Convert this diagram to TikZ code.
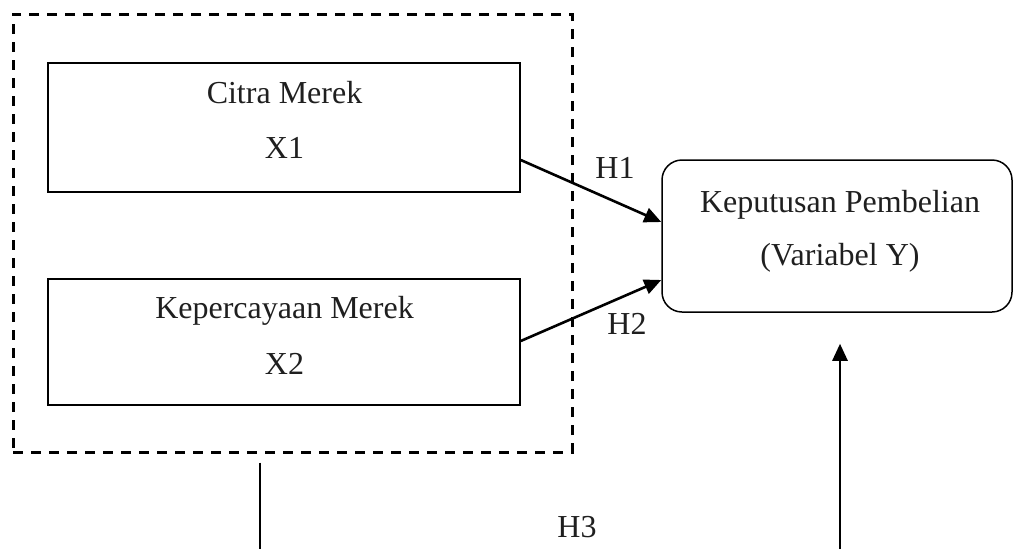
\documentclass[tikz,border=0pt]{standalone}
\usepackage{fontspec}
\setmainfont{Liberation Serif}
\usetikzlibrary{arrows.meta}
\begin{document}
\begin{tikzpicture}[x=1pt,y=-1pt,
  box/.style={draw, line width=1.5pt, minimum width=#1, inner sep=0pt},
  grpbox/.style={draw, line width=3pt, dash pattern=on 10pt off 8pt, inner sep=0pt},
  ybox/.style={draw, line width=1.5pt, rounded corners=20pt, inner sep=0pt},
  txt/.style={anchor=base, inner sep=0pt, font=\fontsize{32}{38}\selectfont, text=black!88},
  conn/.style={line width=2.6pt, -{Triangle[length=17pt,width=15pt]}},
  plain/.style={line width=2.6pt}
]
\useasboundingbox (0,0) rectangle (1014,549);
% group (dashed) box
\node[grpbox, minimum width=559pt, minimum height=438pt] (grp) at (292.5,233) {};
% variable boxes
\node[box=472pt, minimum height=129pt] (b1) at (284,127.5) {};
\node[box=472pt, minimum height=126pt] (b2) at (284,342) {};
\node[ybox, minimum width=350pt, minimum height=152pt] (yb) at (837,236) {};
% texts
\node[txt] (t1a) at (284.5,103) {Citra Merek};
\node[txt] (t1b) at (284.5,158) {X1};
\node[txt] (t2a) at (284.5,318) {Kepercayaan Merek};
\node[txt] (t2b) at (284.5,374) {X2};
\node[txt] (tya) at (840,212) {Keputusan Pembelian};
\node[txt] (tyb) at (840,265) {(Variabel Y)};
% hypothesis labels
\node[txt] (h1) at (615,178) {H1};
\node[txt] (h2) at (627,334) {H2};
\node[txt] (h3) at (577,537) {H3};
% connectors
\draw[conn] ([yshift=-32.5pt]b1.east) -- ([yshift=14pt]yb.west);
\draw[conn] ([yshift=1pt]b2.east) -- ([yshift=-44pt]yb.west);
\coordinate (ybot) at (840,549);
\coordinate (gbot) at (260,549);
\draw[conn] (ybot) -- ([xshift=3pt,yshift=-31pt]yb.south);
\draw[plain] ([xshift=-32.5pt,yshift=-9pt]grp.south) -- (gbot);
\end{tikzpicture}
\end{document}
